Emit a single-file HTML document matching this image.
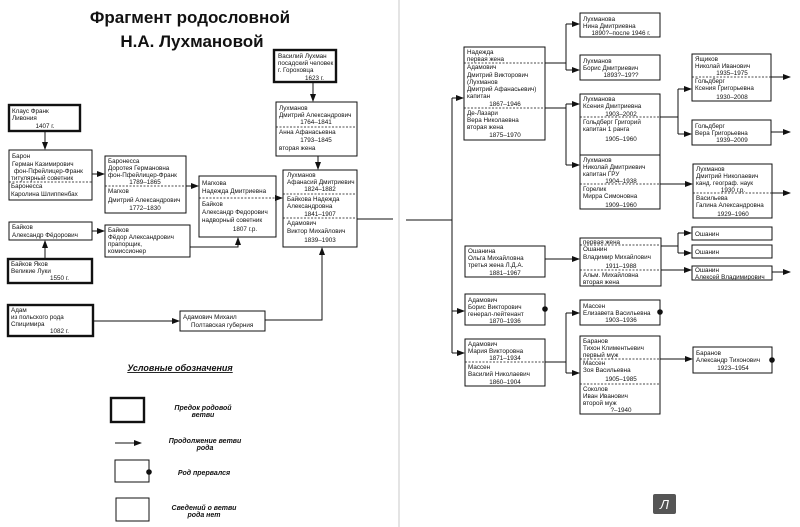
<!DOCTYPE html>
<html><head><meta charset="utf-8"><style>
html,body{margin:0;padding:0;background:#fff;}
svg{display:block}
text{font-family:"Liberation Sans",sans-serif;font-size:6.3px;fill:#111}
.c{text-anchor:middle}
.b{fill:#fff;stroke:#111;stroke-width:1}
.k{fill:#fff;stroke:#111;stroke-width:2.4}
.d{stroke:#111;stroke-width:0.8;stroke-dasharray:2 1.5}
.l{stroke:#111;stroke-width:1;fill:none}
</style></head><body>
<svg width="800" height="527" viewBox="0 0 800 527" xmlns="http://www.w3.org/2000/svg">
<defs><marker id="a" markerWidth="8" markerHeight="6" refX="7" refY="3" orient="auto" markerUnits="userSpaceOnUse"><path d="M0,0 L8,3 L0,6z" fill="#111"/></marker>
<marker id="o" markerWidth="6" markerHeight="6" refX="3" refY="3" markerUnits="userSpaceOnUse"><circle cx="3" cy="3" r="2.8" fill="#111"/></marker></defs>
<line x1="399" y1="0" x2="399" y2="527" stroke="#bbb" stroke-width="0.8"/>
<text x="190" y="23" class="c" style="font-size:17px;font-weight:bold">Фрагмент родословной</text>
<text x="192" y="47" class="c" style="font-size:17px;font-weight:bold">Н.А. Лухмановой</text>

<!-- left side -->
<rect x="274" y="50" width="62" height="32" class="k"/>
<text x="278" y="58">Василий Лухман</text><text x="278" y="65">посадский человек</text><text x="278" y="72">г. Гороховца</text><text x="305" y="80">1623 г.</text>
<line x1="313" y1="82" x2="313" y2="101" class="l" marker-end="url(#a)"/>
<rect x="276" y="102" width="81" height="54" class="b"/>
<line x1="276" y1="127" x2="357" y2="127" class="d"/>
<text x="279" y="110">Лухманов</text><text x="279" y="117">Дмитрий Александрович</text><text x="316" y="124" class="c">1764–1841</text>
<text x="279" y="134">Анна Афанасьевна</text><text x="316" y="142" class="c">1793–1845</text><text x="279" y="150">вторая жена</text>
<line x1="318" y1="156" x2="318" y2="169" class="l" marker-end="url(#a)"/>
<rect x="283" y="170" width="74" height="77" class="b"/>
<line x1="283" y1="194" x2="357" y2="194" class="d"/><line x1="283" y1="218" x2="357" y2="218" class="d"/>
<text x="287" y="177">Лухманов</text><text x="287" y="184">Афанасий Дмитриевич</text><text x="320" y="191" class="c">1824–1882</text>
<text x="287" y="201">Байкова Надежда</text><text x="287" y="208">Александровна</text><text x="320" y="216" class="c">1841–1907</text>
<text x="287" y="225">Адамович</text><text x="287" y="233">Виктор Михайлович</text><text x="320" y="242" class="c">1839–1903</text>
<line x1="357" y1="219" x2="393" y2="219" class="l"/>
<line x1="406" y1="220" x2="452" y2="220" class="l"/>

<rect x="9" y="105" width="71" height="26" class="k"/>
<text x="12" y="113">Клаус Франк</text><text x="12" y="120">Ливония</text><text x="45" y="128" class="c">1407 г.</text>
<line x1="45" y1="131" x2="45" y2="149" class="l" marker-end="url(#a)"/>
<rect x="9" y="150" width="83" height="50" class="b"/>
<line x1="9" y1="182" x2="92" y2="182" class="d"/>
<text x="12" y="158">Барон</text><text x="12" y="166">Герман Казимирович</text><text x="14" y="173">фон-Пфейлицер-Франк</text><text x="11" y="180">титулярный советник</text>
<text x="11" y="188">Баронесса</text><text x="11" y="196">Каролина Шлиппенбах</text>
<line x1="92" y1="174" x2="104" y2="174" class="l" marker-end="url(#a)"/>
<rect x="105" y="156" width="81" height="57" class="b"/>
<line x1="105" y1="186" x2="186" y2="186" class="d"/>
<text x="108" y="163">Баронесса</text><text x="108" y="170">Доротея Германовна</text><text x="108" y="177">фон-Пфейлицер-Франк</text><text x="145" y="184" class="c">1789–1865</text>
<text x="108" y="193">Магков</text><text x="108" y="202">Дмитрий Александрович</text><text x="145" y="210" class="c">1772–1830</text>
<line x1="186" y1="186" x2="198" y2="186" class="l" marker-end="url(#a)"/>
<rect x="199" y="176" width="77" height="61" class="b"/>
<line x1="199" y1="198" x2="276" y2="198" class="d"/>
<text x="202" y="185">Магкова</text><text x="202" y="193">Надежда Дмитриевна</text>
<text x="202" y="206">Байков</text><text x="202" y="214">Александр Федорович</text><text x="202" y="222">надворный советник</text><text x="245" y="231" class="c">1807 г.р.</text>
<line x1="276" y1="198" x2="282" y2="198" class="l" marker-end="url(#a)"/>
<rect x="9" y="222" width="83" height="18" class="b"/>
<text x="12" y="229">Байков</text><text x="12" y="237">Александр Фёдорович</text>
<line x1="92" y1="231" x2="104" y2="231" class="l" marker-end="url(#a)"/>
<rect x="105" y="225" width="85" height="32" class="b"/>
<text x="108" y="232">Байков</text><text x="108" y="239">Фёдор Александрович</text><text x="108" y="246">прапорщик,</text><text x="108" y="253">комиссионер</text>
<polyline points="190,247 238,247 238,238" class="l" marker-end="url(#a)"/>
<line x1="45" y1="259" x2="45" y2="241" class="l" marker-end="url(#a)"/>
<rect x="8" y="259" width="84" height="24" class="k"/>
<text x="11" y="266">Байков Яков</text><text x="11" y="273">Великие Луки</text><text x="50" y="280">1550 г.</text>
<rect x="8" y="305" width="85" height="31" class="k"/>
<text x="11" y="312">Адам</text><text x="11" y="319">из польского рода</text><text x="11" y="326">Спицимира</text><text x="50" y="333">1082 г.</text>
<line x1="93" y1="321" x2="179" y2="321" class="l" marker-end="url(#a)"/>
<rect x="180" y="311" width="85" height="20" class="b"/>
<text x="183" y="319">Адамович Михаил</text><text x="191" y="327">Полтавская губерния</text>
<polyline points="265,320 322,320 322,248" class="l" marker-end="url(#a)"/>

<!-- legend -->
<text x="180" y="371" class="c" style="font-size:9px;font-style:italic;font-weight:bold;text-decoration:underline">Условные обозначения</text>
<rect x="111" y="398" width="33" height="24" class="k"/>
<text x="203" y="410" class="c" style="font-size:7px;font-style:italic;font-weight:bold">Предок родовой</text><text x="203" y="417" class="c" style="font-size:7px;font-style:italic;font-weight:bold">ветви</text>
<line x1="115" y1="443" x2="141" y2="443" class="l" marker-end="url(#a)"/>
<text x="205" y="443" class="c" style="font-size:7px;font-style:italic;font-weight:bold">Продолжение ветви</text><text x="205" y="450" class="c" style="font-size:7px;font-style:italic;font-weight:bold">рода</text>
<rect x="115" y="460" width="34" height="22" class="b"/><circle cx="149" cy="472" r="2.8" fill="#111"/>
<text x="204" y="475" class="c" style="font-size:7px;font-style:italic;font-weight:bold">Род прервался</text>
<rect x="116" y="498" width="33" height="23" class="b"/>
<text x="204" y="510" class="c" style="font-size:7px;font-style:italic;font-weight:bold">Сведений о ветви</text><text x="204" y="517" class="c" style="font-size:7px;font-style:italic;font-weight:bold">рода нет</text>

<!-- right side -->
<line x1="452" y1="98" x2="452" y2="353" class="l"/>
<line x1="452" y1="98" x2="463" y2="98" class="l" marker-end="url(#a)"/>
<rect x="464" y="47" width="81" height="93" class="b"/>
<line x1="464" y1="63" x2="545" y2="63" class="d"/><line x1="464" y1="108" x2="545" y2="108" class="d"/>
<text x="467" y="54">Надежда</text><text x="467" y="61">первая жена</text><text x="467" y="69">Адамович</text><text x="467" y="77">Дмитрий Викторович</text><text x="467" y="84">(Лухманов</text><text x="467" y="91">Дмитрий Афанасьевич)</text><text x="467" y="98">капитан</text><text x="505" y="106" class="c">1867–1946</text>
<text x="467" y="115">Де-Лазари</text><text x="467" y="122">Вера Николаевна</text><text x="467" y="129">вторая жена</text><text x="505" y="137" class="c">1875–1970</text>
<polyline points="545,63 566,63" class="l"/><line x1="566" y1="24" x2="566" y2="70" class="l"/>
<line x1="566" y1="24" x2="579" y2="24" class="l" marker-end="url(#a)"/><line x1="566" y1="70" x2="579" y2="70" class="l" marker-end="url(#a)"/>
<rect x="580" y="13" width="80" height="24" class="b"/>
<text x="583" y="21">Лухманова</text><text x="583" y="28">Нина Дмитриевна</text><text x="621" y="35" class="c">1890?–после 1946 г.</text>
<rect x="580" y="55" width="80" height="25" class="b"/>
<text x="583" y="63">Лухманов</text><text x="583" y="70">Борис Дмитриевич</text><text x="621" y="77" class="c">1893?–19??</text>
<line x1="545" y1="108" x2="566" y2="108" class="l"/><line x1="566" y1="104" x2="566" y2="165" class="l"/>
<line x1="566" y1="104" x2="579" y2="104" class="l" marker-end="url(#a)"/><line x1="566" y1="165" x2="579" y2="165" class="l" marker-end="url(#a)"/>
<rect x="580" y="94" width="80" height="61" class="b"/>
<line x1="580" y1="117" x2="660" y2="117" class="d"/>
<text x="583" y="101">Лухманова</text><text x="583" y="108">Ксения Дмитриевна</text><text x="621" y="116" class="c">1903–2002</text>
<text x="583" y="124">Гольдберг Григорий</text><text x="583" y="131">капитан 1 ранга</text><text x="621" y="141" class="c">1905–1960</text>
<rect x="580" y="155" width="80" height="54" class="b"/>
<line x1="580" y1="184" x2="660" y2="184" class="d"/>
<text x="583" y="162">Лухманов</text><text x="583" y="169">Николай Дмитриевич</text><text x="583" y="176">капитан ГРУ</text><text x="621" y="183" class="c">1904–1938</text>
<text x="583" y="191">Горелик</text><text x="583" y="198">Мирра Симоновна</text><text x="621" y="207" class="c">1909–1960</text>
<line x1="660" y1="117" x2="678" y2="117" class="l"/><line x1="678" y1="89" x2="678" y2="134" class="l"/>
<line x1="678" y1="89" x2="691" y2="89" class="l" marker-end="url(#a)"/><line x1="678" y1="134" x2="691" y2="134" class="l" marker-end="url(#a)"/>
<rect x="692" y="54" width="79" height="47" class="b"/>
<line x1="692" y1="77" x2="771" y2="77" class="d"/>
<text x="695" y="61">Ящиков</text><text x="695" y="68">Николай Иванович</text><text x="732" y="75" class="c">1935–1975</text>
<text x="695" y="83">Гольдберг</text><text x="695" y="90">Ксения Григорьевна</text><text x="732" y="99" class="c">1930–2008</text>
<line x1="771" y1="77" x2="790" y2="77" class="l" marker-end="url(#a)"/>
<rect x="692" y="120" width="79" height="25" class="b"/>
<text x="695" y="128">Гольдберг</text><text x="695" y="135">Вера Григорьевна</text><text x="732" y="142" class="c">1939–2009</text>
<line x1="771" y1="132" x2="790" y2="132" class="l" marker-end="url(#a)"/>
<line x1="660" y1="184" x2="692" y2="184" class="l" marker-end="url(#a)"/>
<rect x="693" y="164" width="79" height="54" class="b"/>
<line x1="693" y1="193" x2="772" y2="193" class="d"/>
<text x="696" y="171">Лухманов</text><text x="696" y="178">Дмитрий Николаевич</text><text x="696" y="185">канд. географ. наук</text><text x="733" y="192" class="c">1930 г.р.</text>
<text x="696" y="200">Васильева</text><text x="696" y="207">Галина Александровна</text><text x="733" y="216" class="c">1929–1960</text>
<line x1="772" y1="193" x2="790" y2="193" class="l" marker-end="url(#a)"/>

<rect x="692" y="227" width="80" height="13" class="b"/><text x="695" y="236">Ошанин</text>
<rect x="692" y="245" width="80" height="13" class="b"/><text x="695" y="254">Ошанин</text>
<rect x="692" y="266" width="80" height="14" class="b"/><text x="695" y="272">Ошанин</text><text x="695" y="279">Алексей Владимирович</text>
<line x1="772" y1="272" x2="790" y2="272" class="l" marker-end="url(#a)"/>
<rect x="465" y="246" width="80" height="31" class="b"/>
<text x="468" y="253">Ошанина</text><text x="468" y="260">Ольга Михайловна</text><text x="468" y="267">третья жена Л.Д.А.</text><text x="505" y="275" class="c">1881–1967</text>
<line x1="545" y1="259" x2="579" y2="259" class="l" marker-end="url(#a)"/>
<rect x="580" y="238" width="81" height="48" class="b"/>
<line x1="580" y1="245" x2="661" y2="245" class="d"/><line x1="580" y1="270" x2="661" y2="270" class="d"/>
<text x="583" y="244">первая жена</text><text x="583" y="251">Ошанин</text><text x="583" y="259">Владимир Михайлович</text><text x="621" y="268" class="c">1911–1988</text>
<text x="583" y="277">Альм. Михайловна</text><text x="583" y="284">вторая жена</text>
<line x1="661" y1="246" x2="678" y2="246" class="l"/><line x1="678" y1="233" x2="678" y2="253" class="l"/>
<line x1="678" y1="233" x2="691" y2="233" class="l" marker-end="url(#a)"/><line x1="678" y1="253" x2="691" y2="253" class="l" marker-end="url(#a)"/>
<line x1="661" y1="270" x2="691" y2="270" class="l" marker-end="url(#a)"/>
<line x1="452" y1="311" x2="464" y2="311" class="l" marker-end="url(#a)"/>
<rect x="465" y="294" width="80" height="31" class="b"/><circle cx="545" cy="309" r="2.8" fill="#111"/>
<text x="468" y="302">Адамович</text><text x="468" y="309">Борис Викторович</text><text x="468" y="316">генерал-лейтенант</text><text x="505" y="323" class="c">1870–1936</text>
<rect x="580" y="300" width="80" height="25" class="b"/><circle cx="660" cy="312" r="2.8" fill="#111"/>
<text x="583" y="308">Массен</text><text x="583" y="315">Елизавета Васильевна</text><text x="621" y="322" class="c">1903–1936</text>
<line x1="452" y1="353" x2="464" y2="353" class="l" marker-end="url(#a)"/>
<rect x="465" y="339" width="80" height="47" class="b"/>
<line x1="465" y1="362" x2="545" y2="362" class="d"/>
<text x="468" y="346">Адамович</text><text x="468" y="353">Мария Викторовна</text><text x="505" y="360" class="c">1871–1934</text>
<text x="468" y="369">Массен</text><text x="468" y="376">Василий Николаевич</text><text x="505" y="384" class="c">1860–1904</text>
<line x1="545" y1="362" x2="566" y2="362" class="l"/><line x1="566" y1="313" x2="566" y2="373" class="l"/>
<line x1="566" y1="313" x2="579" y2="313" class="l" marker-end="url(#a)"/><line x1="566" y1="373" x2="579" y2="373" class="l" marker-end="url(#a)"/>
<rect x="580" y="336" width="80" height="78" class="b"/>
<line x1="580" y1="359" x2="660" y2="359" class="d"/><line x1="580" y1="384" x2="660" y2="384" class="d"/>
<text x="583" y="343">Баранов</text><text x="583" y="350">Тихон Климентьевич</text><text x="583" y="357">первый муж</text>
<text x="583" y="365">Массен</text><text x="583" y="372">Зоя Васильевна</text><text x="621" y="381" class="c">1905–1985</text>
<text x="583" y="391">Соколов</text><text x="583" y="398">Иван Иванович</text><text x="583" y="405">второй муж</text><text x="621" y="412" class="c">?–1940</text>
<line x1="660" y1="359" x2="692" y2="359" class="l" marker-end="url(#a)"/>
<rect x="693" y="347" width="79" height="26" class="b"/><circle cx="772" cy="360" r="2.8" fill="#111"/>
<text x="696" y="355">Баранов</text><text x="696" y="362">Александр Тихонович</text><text x="733" y="370" class="c">1923–1954</text>

<rect x="653" y="494" width="23" height="20" rx="2" fill="#555"/>
<text x="664.5" y="509" class="c" style="font-size:13px;fill:#fff;font-style:italic">Л</text>
</svg>
</body></html>
